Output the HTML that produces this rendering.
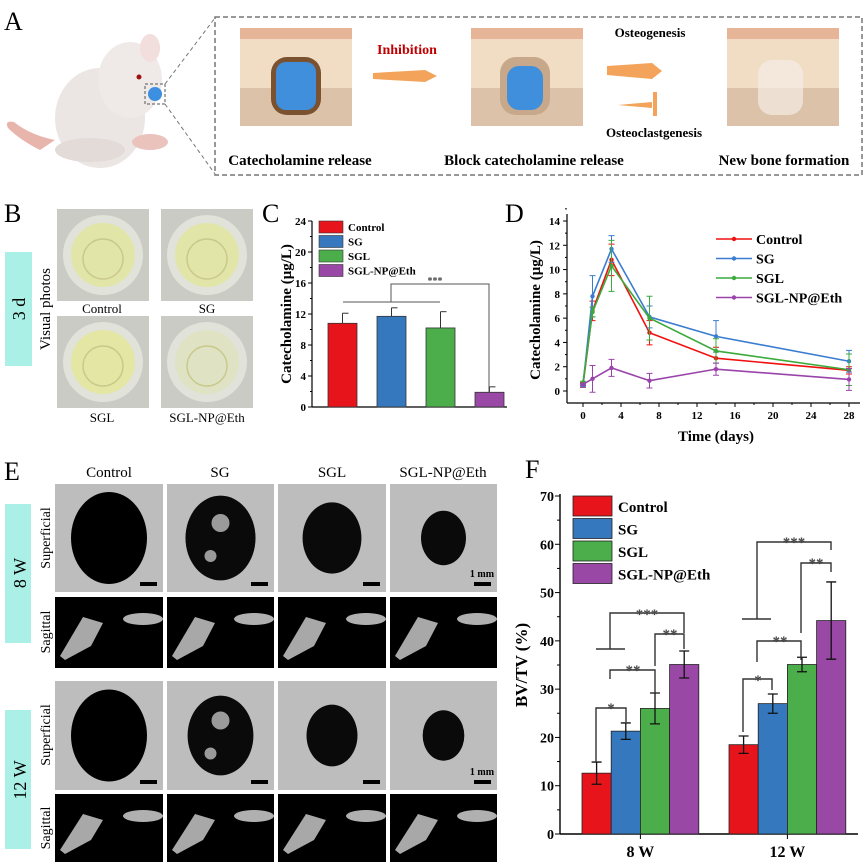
<!DOCTYPE html>
<html><head><meta charset="utf-8"><style>
body{margin:0;background:#fff;}
svg{display:block;font-family:"Liberation Serif",serif;}
</style></head><body>
<svg id="fig" width="865" height="865" viewBox="0 0 865 865" xmlns="http://www.w3.org/2000/svg">
<!-- Panel A -->
<g>
<text x="4" y="30" font-size="26">A</text>
<g>
<path d="M40,150 Q20,140 8,128 Q4,120 14,122 Q30,135 55,140" fill="#e8b5ad"/>
<ellipse cx="100" cy="118" rx="45" ry="50" fill="#ebe6e4"/>
<ellipse cx="130" cy="80" rx="32" ry="38" fill="#efeae8"/>
<ellipse cx="150" cy="48" rx="10" ry="14" fill="#f2dedc"/>
<ellipse cx="90" cy="150" rx="35" ry="12" fill="#e2dbd8"/>
<ellipse cx="150" cy="142" rx="18" ry="8" fill="#eac3bd"/>
<circle cx="139" cy="77" r="2.5" fill="#a01010"/>
<rect x="145" y="84" width="20" height="20" fill="none" stroke="#555" stroke-dasharray="3,2"/>
<circle cx="155" cy="94" r="7" fill="#3d8fe0"/>
<line x1="165" y1="84" x2="215" y2="18" stroke="#777" stroke-dasharray="4,3"/>
<line x1="165" y1="104" x2="215" y2="174" stroke="#777" stroke-dasharray="4,3"/>
</g>
<rect x="215" y="17" width="647" height="158" fill="none" stroke="#777" stroke-width="1.5" stroke-dasharray="5,3"/>
<g>
<rect x="240" y="28" width="112" height="98" fill="#f1dcc4"/><rect x="240" y="28" width="112" height="11" fill="#e6b496"/><rect x="240" y="88" width="112" height="38" fill="#dcc2a8"/>
<rect x="271" y="57" width="50" height="58" rx="16" fill="#7a5230"/><rect x="276" y="62" width="40" height="48" rx="10" fill="#3f8fdc"/>
</g>
<g>
<rect x="471" y="28" width="112" height="98" fill="#f1dcc4"/><rect x="471" y="28" width="112" height="11" fill="#e6b496"/><rect x="471" y="88" width="112" height="38" fill="#dcc2a8"/>
<rect x="500" y="57" width="50" height="58" rx="16" fill="#c8a88a"/><rect x="507" y="66" width="36" height="44" rx="12" fill="#3f8fdc"/>
</g>
<g>
<rect x="727" y="28" width="112" height="98" fill="#f1dcc4"/><rect x="727" y="28" width="112" height="11" fill="#e6b496"/><rect x="727" y="88" width="112" height="38" fill="#dcc2a8"/>
<rect x="758" y="60" width="45" height="55" rx="14" fill="#f4ece6" opacity="0.7"/>
</g>
<polygon points="373,73 425,70 437,76 425,82 373,79" fill="#f3a35a"/>
<text x="407" y="54" font-size="14" font-weight="bold" fill="#c00000" text-anchor="middle">Inhibition</text>
<polygon points="607,66 652,63 662,71 652,79 607,75" fill="#f3a35a"/>
<text x="650" y="37" font-size="13" font-weight="bold" text-anchor="middle">Osteogenesis</text>
<polygon points="618,105 652,102 652,108" fill="#f3a35a"/><rect x="653" y="92" width="4" height="24" fill="#f3a35a"/>
<text x="654" y="137" font-size="13" font-weight="bold" text-anchor="middle">Osteoclastgenesis</text>
<text x="300" y="165" font-size="15" font-weight="bold" text-anchor="middle">Catecholamine release</text>
<text x="534" y="165" font-size="15" font-weight="bold" text-anchor="middle">Block catecholamine release</text>
<text x="784" y="165" font-size="15" font-weight="bold" text-anchor="middle">New bone formation</text>
</g>
<!-- Panel B -->
<g>
<text x="4" y="222" font-size="26">B</text>
<rect x="5" y="252" width="27" height="114" fill="#aaf0e6"/>
<text transform="translate(25,309) rotate(-90)" font-size="18" text-anchor="middle">3 d</text>
<text transform="translate(50,309) rotate(-90)" font-size="15" text-anchor="middle">Visual photos</text>
<g id="photos"></g>
<text x="102" y="313" font-size="13" text-anchor="middle">Control</text>
<text x="207" y="313" font-size="13" text-anchor="middle">SG</text>
<text x="102" y="422" font-size="13" text-anchor="middle">SGL</text>
<text x="207" y="422" font-size="13" text-anchor="middle">SGL-NP@Eth</text>
</g>
<!-- Panel C -->
<g id="panelC">
<text x="262" y="222" font-size="26">C</text>
</g>
<!-- Panel D -->
<g id="panelD">
<text x="505" y="222" font-size="26">D</text>
</g>
<!-- Panel E -->
<g id="panelE">
<text x="4" y="480" font-size="26">E</text>
<rect x="5" y="504" width="26" height="139" fill="#aaf0e6"/>
<text transform="translate(26,573) rotate(-90)" font-size="18" text-anchor="middle">8 W</text>
<rect x="5" y="710" width="26" height="139" fill="#aaf0e6"/>
<text transform="translate(26,780) rotate(-90)" font-size="18" text-anchor="middle">12 W</text>
<text transform="translate(50,538) rotate(-90)" font-size="14" text-anchor="middle">Superficial</text>
<text transform="translate(50,632) rotate(-90)" font-size="14" text-anchor="middle">Sagittal</text>
<text transform="translate(50,735) rotate(-90)" font-size="14" text-anchor="middle">Superficial</text>
<text transform="translate(50,828) rotate(-90)" font-size="14" text-anchor="middle">Sagittal</text>
<text x="109" y="477" font-size="15" text-anchor="middle">Control</text>
<text x="220" y="477" font-size="15" text-anchor="middle">SG</text>
<text x="332" y="477" font-size="15" text-anchor="middle">SGL</text>
<text x="443" y="477" font-size="15" text-anchor="middle">SGL-NP@Eth</text>
</g>
<!-- Panel F -->
<g id="panelF">
<text x="525" y="478" font-size="26">F</text>
</g>
</svg>
<script>
const NS="http://www.w3.org/2000/svg";
function mk(parent,tag,attrs,text){const e=document.createElementNS(NS,tag);for(const k in attrs)e.setAttribute(k,attrs[k]);if(text!==undefined)e.textContent=text;parent.appendChild(e);return e;}
const colors=["#e8141b","#3578bd","#4bae4b","#9a48a6"];
const groups=["Control","SG","SGL","SGL-NP@Eth"];

// Panel C data
const cValues=[10.8,11.7,10.2,1.9];
const cErrors=[1.3,1.1,2.1,0.7];
const cTicks=[0,4,8,12,16,20,24];
// Panel D data
const dDays=[0,1,3,7,14,28];
const dControl=[0.5,6.6,10.8,4.8,2.7,1.7];
const dSG=[0.45,7.8,11.7,6.1,4.5,2.45];
const dSGL=[0.7,6.5,10.3,6.0,3.3,1.75];
const dNP=[0.55,1.0,1.9,0.85,1.8,0.95];
const dControlErr=[0.2,0.8,1.3,1.0,0.9,0.3];
const dSGErr=[0.1,1.7,1.1,0.9,1.3,0.9];
const dSGLErr=[0.1,0.4,2.1,1.8,1.0,1.3];
const dNPErr=[0.1,1.1,0.7,0.6,0.5,0.9];
const dXTicks=[0,4,8,12,16,20,24,28];
const dYTicks=[0,2,4,6,8,10,12,14];
// Panel F data
const fCategories=["8 W","12 W"];
const f8W=[12.6,21.3,26.0,35.1];
const f12W=[18.5,27.0,35.1,44.2];
const f8WErr=[2.3,1.7,3.2,2.8];
const f12WErr=[1.8,2.0,1.5,8.0];
const fTicks=[0,10,20,30,40,50,60,70];

// Panel B photos
const photos=document.getElementById('photos');
[[57,209],[161,209],[57,316],[161,316]].forEach((p,i)=>{
 const g=mk(photos,'g',{});
 
 
 const t=i==3?'#dfe3c4':(i==2?'#e4e6a4':'#e2e5a8');
 mk(g,'rect',{x:p[0],y:p[1],width:92,height:92,fill:'#c9cbc4'});
 mk(g,'circle',{cx:p[0]+46,cy:p[1]+46,r:40,fill:'#e1e2da'});
 mk(g,'circle',{cx:p[0]+46,cy:p[1]+46,r:32,fill:t});
 mk(g,'circle',{cx:p[0]+46,cy:p[1]+50,r:20,fill:'none',stroke:'#c8c98a','stroke-width':1.5});
});

// Panel C
(function(){
 const P=document.getElementById('panelC');
 const x0=312,x1=507,y0=407,y1=221,max=24;
 const ys=v=>y0-(v/max)*(y0-y1);
 const barX=[328,377,426,475],bw=29;
 mk(P,'line',{x1:x0,y1:y0,x2:x1,y2:y0,stroke:'#000','stroke-width':1.2});
 mk(P,'line',{x1:x0,y1:y0,x2:x0,y2:y1,stroke:'#000','stroke-width':1.2});
 cTicks.forEach(t=>{const y=ys(t);
  mk(P,'line',{x1:x0-4,y1:y,x2:x0,y2:y,stroke:'#000'});
  if(t<max){mk(P,'line',{x1:x0-2,y1:ys(t+2),x2:x0,y2:ys(t+2),stroke:'#000'});}
  const tx=mk(P,'text',{x:x0-6,y:y+4,'font-size':11,'font-weight':'bold','text-anchor':'end'},t);
  
  
 });
 const yl=mk(P,'text',{transform:'translate(291,314) rotate(-90)','font-size':15,'font-weight':'bold','text-anchor':'middle'},'Catecholamine (μg/L)');
 
 
 cValues.forEach((v,i)=>{
  const b=mk(P,'rect',{x:barX[i],y:ys(v),width:bw,height:y0-ys(v),fill:colors[i],stroke:'#333','stroke-width':0.8});
  
  
  const cx=barX[i]+bw/2,ye=ys(v+cErrors[i]);
  mk(P,'line',{x1:cx,y1:ys(v),x2:cx,y2:ye,stroke:'#333'});
  mk(P,'line',{x1:cx,y1:ye,x2:cx+6,y2:ye,stroke:'#333'});
 });
 groups.forEach((g,i)=>{
  const y=221+i*14.5;
  const r=mk(P,'rect',{x:319,y:y,width:24,height:12,fill:colors[i],stroke:'#333','stroke-width':0.6});
  
  
  const t=mk(P,'text',{x:348,y:y+10,'font-size':11,'font-weight':'bold'},g);
  
  
 });
 mk(P,'path',{d:'M343,302 H440 M391,302 V284 H489 V392',fill:'none',stroke:'#555','stroke-width':1});
 mk(P,'text',{x:435,y:284,'font-size':10,'font-weight':'bold','text-anchor':'middle',fill:'#444'},'***');
})();

// Panel D
(function(){
 const P=document.getElementById('panelD');
 const x0=567,xa=583,xb=849,xr=860,y0=403,yz=391,y14=221;
 const xs=d=>xa+(d/28)*(xb-xa);
 const ys=v=>yz-(v/14)*(yz-y14);
 mk(P,'line',{x1:x0,y1:y0,x2:xr,y2:y0,stroke:'#000','stroke-width':1.2});
 mk(P,'line',{x1:x0,y1:y0,x2:x0,y2:214,stroke:'#000','stroke-width':1.2});
 dXTicks.forEach(t=>{const x=xs(t);
  mk(P,'line',{x1:x,y1:y0,x2:x,y2:y0+4,stroke:'#000'});
  mk(P,'line',{x1:xs(t+2),y1:y0,x2:xs(t+2),y2:y0+2,stroke:'#000'});
  const tx=mk(P,'text',{x:x,y:y0+16,'font-size':11,'font-weight':'bold','text-anchor':'middle'},t);
  
  
 });
 dYTicks.forEach(t=>{const y=ys(t);
  mk(P,'line',{x1:x0-4,y1:y,x2:x0,y2:y,stroke:'#000'});
  mk(P,'line',{x1:x0-2,y1:ys(t+1),x2:x0,y2:ys(t+1),stroke:'#000'});
  const tx=mk(P,'text',{x:x0-7,y:y+4,'font-size':11,'font-weight':'bold','text-anchor':'end'},t);
  
  
 });
 const xl=mk(P,'text',{x:716,y:441,'font-size':15,'font-weight':'bold','text-anchor':'middle'},'Time (days)');
 
 
 const yl=mk(P,'text',{transform:'translate(540,310) rotate(-90)','font-size':15,'font-weight':'bold','text-anchor':'middle'},'Catecholamine (μg/L)');
 
 
 const series=[dControl,dSG,dSGL,dNP],errs=[dControlErr,dSGErr,dSGLErr,dNPErr];
 const lc=["#f01010","#3a7dd0","#3caa3c","#9a44aa"];
 series.forEach((s,si)=>{
  s.forEach((v,i)=>{const x=xs(dDays[i]);
   mk(P,'path',{d:`M${x},${ys(v-errs[si][i])}V${ys(v+errs[si][i])}M${x-3},${ys(v-errs[si][i])}h6M${x-3},${ys(v+errs[si][i])}h6`,stroke:lc[si],'stroke-width':1,fill:'none'});
  });
  const pl=mk(P,'polyline',{points:s.map((v,i)=>xs(dDays[i])+','+ys(v)).join(' '),fill:'none',stroke:lc[si],'stroke-width':1.6});
  
  
  s.forEach((v,i)=>{
   const m=mk(P,'circle',{cx:xs(dDays[i]),cy:ys(v),r:2.2,fill:lc[si]});
   
   
  });
  const ly=239+si*19.5;
  mk(P,'line',{x1:716,y1:ly,x2:752,y2:ly,stroke:lc[si],'stroke-width':1.6});
  mk(P,'circle',{cx:734,cy:ly,r:2.2,fill:lc[si]});
  const t=mk(P,'text',{x:756,y:ly+5,'font-size':14,'font-weight':'bold'},groups[si]);
  
  
 });
})();

// Panel E images
(function(){
 const P=document.getElementById('panelE');
 const cols=[[55,163],[167,274],[278,386],[390,497]];
 const rows=[[484,592,'s'],[597,668,'g'],[681,790,'s'],[794,862,'g']];
 rows.forEach((r,ri)=>{cols.forEach((c,ci)=>{
  const w=c[1]-c[0],h=r[1]-r[0],cx=c[0]+w/2,cy=r[0]+h/2;
  const g=mk(P,'g',{});
  
  
  if(r[2]=='s'){
   mk(g,'rect',{x:c[0],y:r[0],width:w,height:h,fill:'#bdbdbd'});
   const k=ri==0?[1,.85,.6,.35][ci]:[1,.75,.45,.3][ci];
   mk(g,'ellipse',{cx:cx,cy:cy,rx:38*Math.sqrt(k),ry:46*Math.sqrt(k),fill:'#000',opacity:ci==0?1:0.95});
   if(ci==1){mk(g,'circle',{cx:cx,cy:cy-15,r:9,fill:'#9a9a9a'});mk(g,'circle',{cx:cx-10,cy:cy+18,r:6,fill:'#9a9a9a'});}
   mk(g,'rect',{x:c[1]-23,y:r[1]-10,width:17,height:4,fill:'#000'});
   if(ci==3)mk(g,'text',{x:c[1]-15,y:r[1]-15,'font-size':10,'font-weight':'bold','text-anchor':'middle'},'1 mm');
  }else{
   mk(g,'rect',{x:c[0],y:r[0],width:w,height:h,fill:'#000'});
   mk(g,'polygon',{points:`${c[0]+5},${r[1]-12} ${c[0]+28},${r[0]+20} ${c[0]+48},${r[0]+26} ${c[0]+36},${r[1]-22} ${c[0]+10},${r[1]-8}`,fill:'#a8a8a8'});
   mk(g,'ellipse',{cx:c[1]-20,cy:r[0]+22,rx:20,ry:6,fill:'#b0b0b0'});
  }
 });});
})();

// Panel F
(function(){
 const P=document.getElementById('panelF');
 const x0=560,x1=858,y0=834,y70=496;
 const ys=v=>y0-(v/70)*(y0-y70);
 const groupStart=[582,729],bw=29.2;
 const data=[f8W,f12W],errs=[f8WErr,f12WErr];
 mk(P,'line',{x1:x0,y1:y0,x2:x1,y2:y0,stroke:'#000','stroke-width':1.4});
 mk(P,'line',{x1:x0,y1:y0,x2:x0,y2:y70-2,stroke:'#000','stroke-width':1.4});
 fTicks.forEach(t=>{const y=ys(t);
  mk(P,'line',{x1:x0-5,y1:y,x2:x0,y2:y,stroke:'#000'});
  if(t<70)mk(P,'line',{x1:x0-3,y1:ys(t+5),x2:x0,y2:ys(t+5),stroke:'#000'});
  const tx=mk(P,'text',{x:x0-6,y:y+5,'font-size':14,'font-weight':'bold','text-anchor':'end'},t);
  
  
 });
 const yl=mk(P,'text',{transform:'translate(527,665) rotate(-90)','font-size':17,'font-weight':'bold','text-anchor':'middle'},'BV/TV (%)');
 
 
 fCategories.forEach((cat,gi)=>{
  const cxg=groupStart[gi]+bw*2;
  mk(P,'line',{x1:cxg,y1:y0,x2:cxg,y2:y0+5,stroke:'#000'});
  const t=mk(P,'text',{x:cxg,y:857,'font-size':16,'font-weight':'bold','text-anchor':'middle'},cat);
  
  
  data[gi].forEach((v,i)=>{
   const x=groupStart[gi]+i*bw;
   const b=mk(P,'rect',{x:x,y:ys(v),width:bw,height:y0-ys(v),fill:colors[i],stroke:'#222','stroke-width':0.8});
   
   
   const cx=x+bw/2,e=errs[gi][i];
   mk(P,'path',{d:`M${cx},${ys(v-e)}V${ys(v+e)}M${cx-5},${ys(v-e)}h10M${cx-5},${ys(v+e)}h10`,stroke:'#111','stroke-width':1.3,fill:'none'});
  });
 });
 groups.forEach((g,i)=>{
  const y=496+i*22.5;
  const r=mk(P,'rect',{x:573,y:y,width:39,height:20,fill:colors[i],stroke:'#222','stroke-width':0.8});
  
  
  const t=mk(P,'text',{x:618,y:y+16,'font-size':15,'font-weight':'bold'},g);
  
  
 });
 const br='M596,762 V708 H626 V722 M610,679 V670 H655 V693 M596,649 H625 M610,649 V613 H684 V633 M655,666 V634 H684 V649 '+
  'M743,732 V679 H772 V690 M757,662 V641 H801 V660 M742,619 H771 M757,619 V542 H831 V550 M801,633 V563 H831 V572';
 mk(P,'path',{d:br,fill:'none',stroke:'#333','stroke-width':1.4});
 [[611,705,'*'],[633,667,'**'],[647,611,'***'],[670,631,'**'],[758,677,'*'],[780,638,'**'],[794,539,'***'],[816,560,'**']].forEach(s=>{
  mk(P,'text',{x:s[0],y:s[1]+8,'font-size':15,'font-weight':'bold','text-anchor':'middle',fill:'#444'},s[2]);
 });
})();
</script>
</body></html>
